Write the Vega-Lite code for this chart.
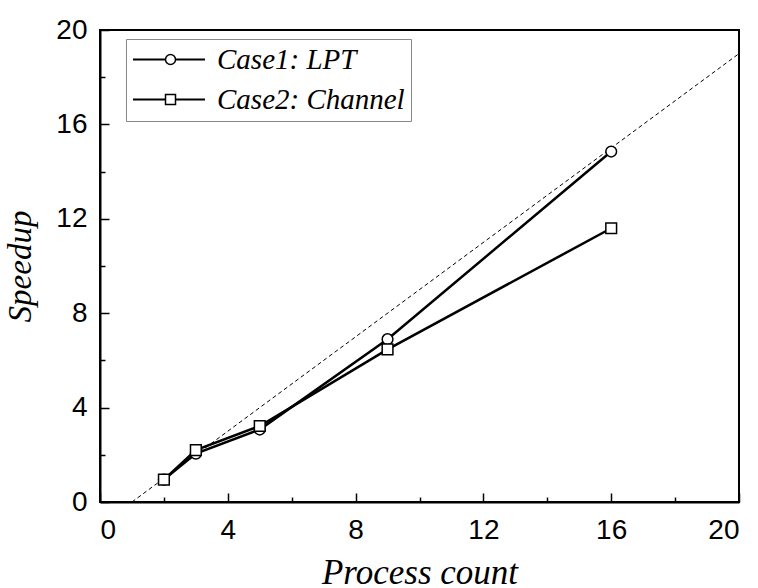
{
  "$schema": "https://vega.github.io/schema/vega-lite/v6.json",
  "width": 639,
  "height": 472,
  "autosize": "none",
  "padding": {"left": 100, "top": 30, "right": 19, "bottom": 86},
  "background": "white",
  "config": {
    "view": {"stroke": "black", "strokeWidth": 2},
    "axis": {
      "domainColor": "black",
      "domainWidth": 2,
      "tickColor": "black",
      "tickWidth": 1.5,
      "grid": false,
      "labelFont": "Liberation Sans",
      "labelFontSize": 28,
      "labelColor": "black",
      "titleFont": "serif",
      "titleFontStyle": "italic",
      "titleFontWeight": "normal",
      "titleFontSize": 35,
      "titleColor": "black"
    }
  },
  "datasets": {
    "speedup": [
      {"procs": 2, "speedup": 0.95, "series": "Case1: LPT"},
      {"procs": 3, "speedup": 2.05, "series": "Case1: LPT"},
      {"procs": 5, "speedup": 3.07, "series": "Case1: LPT"},
      {"procs": 9, "speedup": 6.9, "series": "Case1: LPT"},
      {"procs": 16, "speedup": 14.85, "series": "Case1: LPT"},
      {"procs": 2, "speedup": 0.95, "series": "Case2: Channel"},
      {"procs": 3, "speedup": 2.2, "series": "Case2: Channel"},
      {"procs": 5, "speedup": 3.22, "series": "Case2: Channel"},
      {"procs": 9, "speedup": 6.47, "series": "Case2: Channel"},
      {"procs": 16, "speedup": 11.6, "series": "Case2: Channel"}
    ],
    "ideal": [
      {"procs": 1, "speedup": 0},
      {"procs": 20, "speedup": 19}
    ]
  },
  "layer": [
    {
      "data": {"name": "ideal"},
      "mark": {"type": "line", "color": "black", "strokeWidth": 1, "strokeDash": [4, 3]},
      "encoding": {
        "x": {
          "field": "procs",
          "type": "quantitative",
          "scale": {"domain": [0, 20], "nice": false},
          "axis": {
            "title": "Process count",
            "values": [0, 2, 4, 6, 8, 10, 12, 14, 16, 18, 20],
            "labelExpr": "datum.value % 4 === 0 ? datum.label : ''",
            "tickSize": {"condition": {"test": "datum.value % 4 === 0", "value": -9}, "value": -5},
            "labelPadding": 23,
            "titlePadding": 11
          }
        },
        "y": {
          "field": "speedup",
          "type": "quantitative",
          "scale": {"domain": [0, 20], "nice": false},
          "axis": {
            "title": "Speedup",
            "titleFontSize": 33,
            "values": [0, 2, 4, 6, 8, 10, 12, 14, 16, 18, 20],
            "labelExpr": "datum.value % 4 === 0 ? datum.label : ''",
            "tickSize": {"condition": {"test": "datum.value % 4 === 0", "value": -9}, "value": -5},
            "labelPadding": 22,
            "titlePadding": 18
          }
        }
      }
    },
    {
      "data": {"name": "speedup"},
      "mark": {"type": "line", "strokeWidth": 2.5},
      "encoding": {
        "x": {"field": "procs", "type": "quantitative"},
        "y": {"field": "speedup", "type": "quantitative"},
        "color": {
          "field": "series",
          "type": "nominal",
          "scale": {"domain": ["Case1: LPT", "Case2: Channel"], "range": ["black", "black"]},
          "legend": {
            "title": null,
            "orient": "none",
            "legendX": 26,
            "legendY": 9,
            "zindex": 0,
            "padding": 6,
            "strokeColor": "#888",
            "fillColor": "white",
            "labelFont": "serif",
            "labelFontStyle": "italic",
            "labelFontSize": 29,
            "labelColor": "black",
            "labelLimit": 400,
            "labelOffset": 11,
            "symbolType": "stroke",
            "symbolSize": 5184,
            "symbolStrokeWidth": 2,
            "symbolStrokeColor": "black",
            "clipHeight": 29,
            "rowPadding": 10
          }
        }
      }
    },
    {
      "data": {"name": "speedup"},
      "mark": {"type": "point", "filled": true, "fill": "white", "stroke": "black", "strokeWidth": 1.5, "size": 115, "opacity": 1},
      "encoding": {
        "x": {"field": "procs", "type": "quantitative"},
        "y": {"field": "speedup", "type": "quantitative"},
        "shape": {
          "field": "series",
          "type": "nominal",
          "scale": {"range": ["circle", "square"]},
          "legend": {
            "title": null,
            "orient": "none",
            "legendX": 50,
            "legendY": 9,
            "zindex": 1,
            "padding": 6,
            "labelExpr": "''",
            "labelFontSize": 29,
            "labelOffset": 11,
            "symbolSize": 100,
            "symbolStrokeWidth": 1.5,
            "clipHeight": 29,
            "rowPadding": 10
          }
        }
      }
    }
  ]
}
